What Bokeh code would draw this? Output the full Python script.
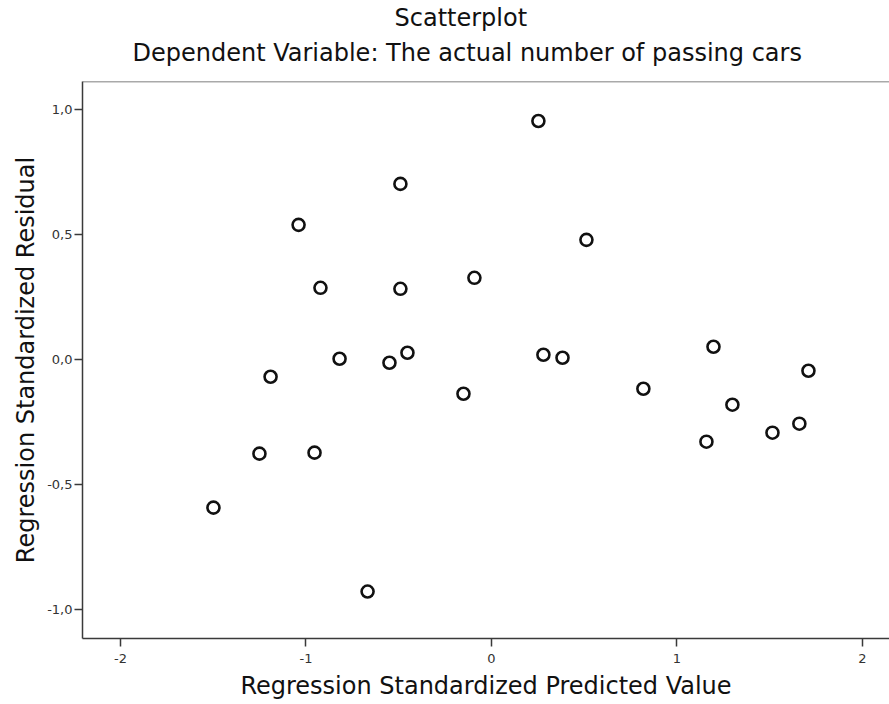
from bokeh.plotting import figure
from bokeh.models import Range1d, FixedTicker, CustomJSTickFormatter, Title, Span
from bokeh.embed import file_html
from bokeh.resources import INLINE

# Regression standardized predicted values (x) and residuals (y)
predicted = [-1.499, -1.251, -1.191, -1.040, -0.954, -0.922, -0.819, -0.668,
             -0.550, -0.491, -0.491, -0.453, -0.151, -0.092, 0.253, 0.280,
             0.383, 0.512, 0.819, 1.159, 1.197, 1.299, 1.515, 1.660, 1.709]
residual = [-0.592, -0.376, -0.068, 0.540, -0.372, 0.288, 0.004, -0.928,
            -0.012, 0.704, 0.284, 0.028, -0.136, 0.328, 0.956, 0.020,
            0.008, 0.480, -0.116, -0.328, 0.052, -0.180, -0.292, -0.256, -0.044]
x_ticks = [-2, -1, 0, 1, 2]
y_ticks = [-1.0, -0.5, 0.0, 0.5, 1.0]

FONT = "DejaVu Sans"

p = figure(width=889, height=704, output_backend="svg", toolbar_location=None,
           x_range=Range1d(-2.205, 2.146), y_range=Range1d(-1.116, 1.114),
           min_border_left=82, min_border_right=0, min_border_top=81,
           min_border_bottom=66)
p.title = None
p.outline_line_color = None
p.xgrid.visible = False
p.ygrid.visible = False
p.background_fill_color = "white"
p.border_fill_color = "white"

# titles
t2 = Title(text="Dependent Variable: The actual number of passing cars", align="left",
           text_font=FONT, text_font_size="24px", text_font_style="normal",
           text_color="#111111", offset=50, standoff=29)
t1 = Title(text="Scatterplot", align="left", text_font=FONT, text_font_size="24px",
           text_font_style="normal", text_color="#111111", offset=312, standoff=-19)
p.add_layout(t2, "above")
p.add_layout(t1, "above")

# top border line
p.add_layout(Span(location=1.114, dimension="width", line_color="#555555", line_width=1.5))

for ax in (p.xaxis[0], p.yaxis[0]):
    ax.axis_line_color = "#3a3a3a"
    ax.axis_line_width = 1.5
    ax.major_tick_line_color = "#3a3a3a"
    ax.major_tick_line_width = 1.5
    ax.major_tick_out = 8
    ax.major_tick_in = 0
    ax.minor_tick_line_color = None
    ax.major_label_text_font = FONT
    ax.major_label_text_font_size = "13px"
    ax.major_label_text_color = "#333333"
    ax.axis_label_text_font = FONT
    ax.axis_label_text_font_style = "normal"
    ax.axis_label_text_color = "#111111"
    ax.axis_label_text_font_size = "24px"

p.xaxis[0].ticker = FixedTicker(ticks=x_ticks)
p.yaxis[0].ticker = FixedTicker(ticks=y_ticks)
p.xaxis[0].formatter = CustomJSTickFormatter(code="return tick.toFixed(0);")
p.yaxis[0].formatter = CustomJSTickFormatter(code="return tick.toFixed(1).replace('.', ',');")
p.xaxis[0].axis_label = "Regression Standardized Predicted Value"
p.yaxis[0].axis_label = "Regression Standardized Residual"
p.xaxis[0].major_label_standoff = 7
p.xaxis[0].axis_label_standoff = 6
p.yaxis[0].major_label_standoff = 2
p.yaxis[0].axis_label_standoff = 4

p.scatter(predicted, residual, marker="circle", size=12, fill_color=None,
          line_color="#111111", line_width=2.6)

open("out.html", "w").write(file_html(p, INLINE))
